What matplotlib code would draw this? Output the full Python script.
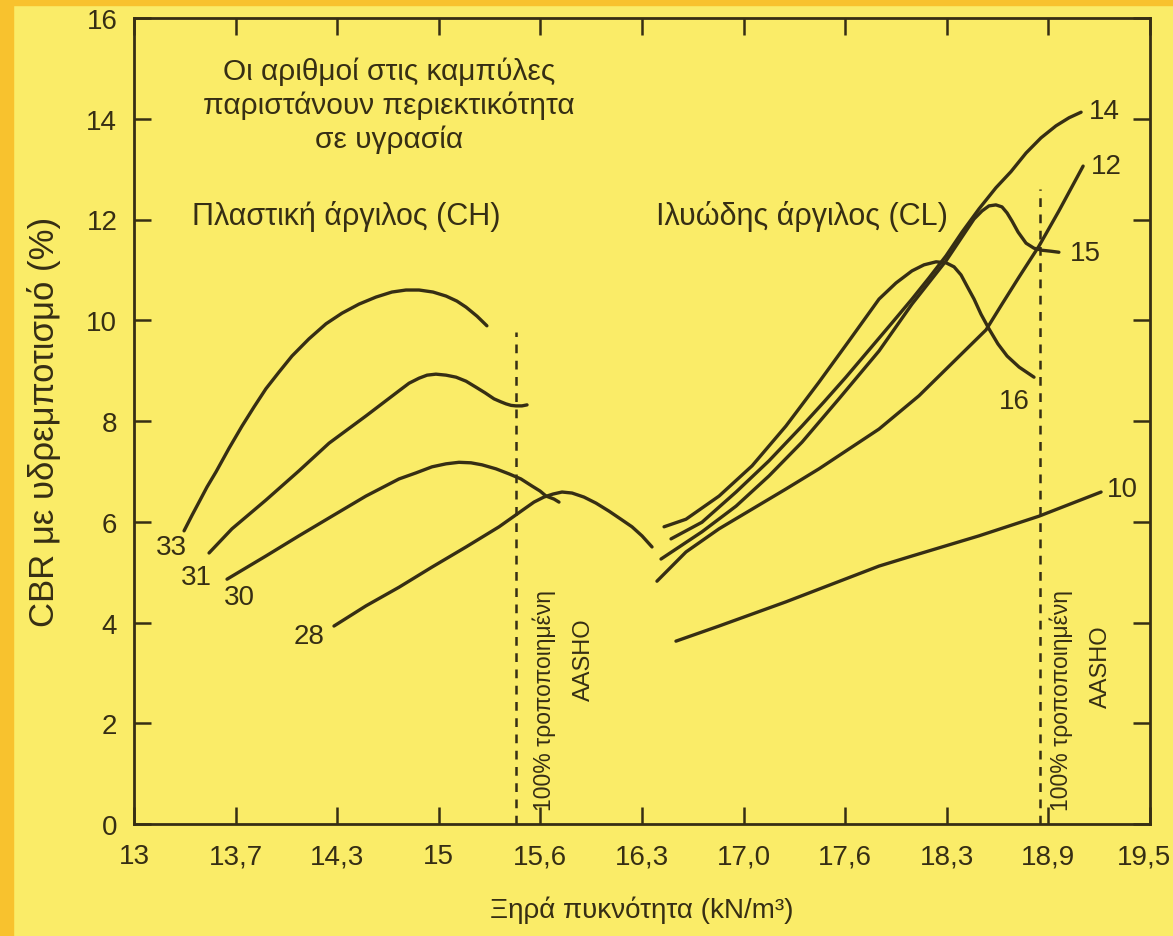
import numpy as np
import matplotlib.pyplot as plt
from matplotlib.patches import Rectangle

plt.rcParams['font.family'] = ['Liberation Sans', 'DejaVu Sans']

INK = '#362e14'
BG = '#faec68'
EDGE = '#f8c22e'

# axis ticks (kN/m3 on x, CBR % on y)
x_ticks = [13, 13.7, 14.3, 15, 15.6, 16.3, 17.0, 17.6, 18.3, 18.9, 19.5]
x_tick_labels = ["13", "13,7", "14,3", "15", "15,6", "16,3", "17,0", "17,6", "18,3", "18,9", "19,5"]
y_ticks = [0, 2, 4, 6, 8, 10, 12, 14, 16]

# plastic clay (CH), moisture 33 / 31 / 30 / 28 %
ch33_x = [13.345, 13.400, 13.448, 13.503, 13.565, 13.655, 13.738, 13.809, 13.879, 13.956, 14.033, 14.133, 14.234,
          14.333, 14.450, 14.567, 14.677, 14.774, 14.864, 14.960, 15.043, 15.107, 15.161, 15.226, 15.284]
ch33_y = [5.82, 6.13, 6.39, 6.69, 6.99, 7.46, 7.90, 8.28, 8.64, 8.97, 9.29, 9.63, 9.93,
          10.14, 10.32, 10.46, 10.56, 10.60, 10.60, 10.56, 10.48, 10.38, 10.26, 10.08, 9.89]
ch31_x = [13.517, 13.675, 13.879, 14.074, 14.252, 14.498, 14.726, 14.795, 14.864, 14.919, 14.980, 15.043,
          15.102, 15.161, 15.220, 15.273, 15.326, 15.367, 15.397, 15.427, 15.456, 15.491, 15.521]
ch31_y = [5.38, 5.86, 6.43, 7.01, 7.56, 8.10, 8.60, 8.75, 8.85, 8.91, 8.93, 8.91,
          8.87, 8.79, 8.67, 8.56, 8.44, 8.38, 8.34, 8.31, 8.30, 8.30, 8.32]
ch30_x = [13.641, 13.879, 14.074, 14.269, 14.498, 14.726, 14.843, 14.953, 15.043, 15.119, 15.190, 15.255,
          15.338, 15.415, 15.485, 15.550, 15.598, 15.639, 15.694, 15.728]
ch30_y = [4.86, 5.32, 5.72, 6.11, 6.51, 6.85, 6.97, 7.09, 7.15, 7.18, 7.17, 7.13,
          7.05, 6.95, 6.85, 6.71, 6.61, 6.51, 6.45, 6.39]
ch28_x = [14.281, 14.498, 14.726, 14.953, 15.161, 15.356, 15.503, 15.562, 15.624, 15.687, 15.749, 15.818,
          15.900, 15.983, 16.073, 16.155, 16.231, 16.300, 16.369]
ch28_y = [3.93, 4.33, 4.70, 5.10, 5.50, 5.90, 6.25, 6.39, 6.49, 6.55, 6.59, 6.57,
          6.49, 6.37, 6.21, 6.05, 5.90, 5.72, 5.50]

# silty clay (CL), moisture 16 / 14 / 15 / 12 / 10 %
cl16_x = [16.452, 16.603, 16.831, 17.050, 17.250, 17.445, 17.626, 17.833, 17.950, 18.060, 18.143, 18.226,
          18.295, 18.343, 18.384, 18.419, 18.461, 18.502, 18.549, 18.602, 18.656, 18.727, 18.815]
cl16_y = [5.90, 6.05, 6.51, 7.11, 7.90, 8.77, 9.59, 10.42, 10.74, 10.98, 11.10, 11.16,
          11.14, 11.06, 10.90, 10.68, 10.42, 10.12, 9.83, 9.53, 9.29, 9.07, 8.87]
cl14_x = [16.500, 16.713, 16.948, 17.150, 17.345, 17.475, 17.605, 17.764, 17.923, 18.060, 18.177, 18.295,
          18.390, 18.490, 18.590, 18.679, 18.768, 18.856, 18.945, 19.022, 19.093]
cl14_y = [5.66, 5.99, 6.59, 7.21, 7.90, 8.38, 8.87, 9.41, 9.95, 10.42, 10.84, 11.28,
          11.75, 12.21, 12.63, 12.95, 13.32, 13.62, 13.86, 14.02, 14.13]
cl15_x = [16.431, 16.713, 16.948, 17.150, 17.345, 17.563, 17.833, 18.060, 18.295, 18.413, 18.461, 18.508,
          18.549, 18.590, 18.626, 18.656, 18.685, 18.721, 18.768, 18.815, 18.862, 18.916, 18.962]
cl15_y = [5.26, 5.80, 6.31, 6.91, 7.58, 8.44, 9.39, 10.32, 11.18, 11.77, 12.01, 12.17,
          12.27, 12.29, 12.25, 12.13, 11.97, 11.75, 11.53, 11.43, 11.39, 11.37, 11.35]
cl12_x = [16.403, 16.603, 16.831, 17.050, 17.250, 17.445, 17.833, 18.108, 18.295, 18.532, 18.626, 18.727,
          18.844, 18.962, 19.105]
cl12_y = [4.82, 5.40, 5.86, 6.25, 6.65, 7.05, 7.84, 8.50, 9.03, 9.81, 10.32, 10.86,
          11.47, 12.17, 13.06]
cl10_x = [16.534, 16.831, 17.250, 17.833, 18.060, 18.490, 18.844, 19.211]
cl10_y = [3.63, 3.93, 4.41, 5.12, 5.32, 5.72, 6.11, 6.59]

# 100% modified AASHO lines
aasho_x = [15.456, 18.850]
aasho_top = [9.77, 12.61]

curves = [
    (ch33_x, ch33_y, "33", 13.255, 5.50),
    (ch31_x, ch31_y, "31", 13.427, 4.90),
    (ch30_x, ch30_y, "30", 13.720, 4.51),
    (ch28_x, ch28_y, "28", 14.133, 3.73),
    (cl16_x, cl16_y, "16", 18.697, 8.40),
    (cl14_x, cl14_y, "14", 19.230, 14.15),
    (cl15_x, cl15_y, "15", 19.116, 11.34),
    (cl12_x, cl12_y, "12", 19.240, 13.06),
    (cl10_x, cl10_y, "10", 19.334, 6.65),
]

# ticks on the x axis are evenly spaced although the values are not
tick_pos = np.arange(len(x_ticks))


def fwd(x):
    return np.interp(x, x_ticks, tick_pos)


def inv(p):
    return np.interp(p, tick_pos, x_ticks)


fig = plt.figure(figsize=(11.73, 9.37), dpi=100, facecolor=BG)
fig.patches.append(Rectangle((0, 0), 13 / 1173, 1, transform=fig.transFigure, color=EDGE, zorder=0))
fig.patches.append(Rectangle((0, 1 - 6 / 937), 1, 6 / 937, transform=fig.transFigure, color=EDGE, zorder=0))

ax = fig.add_axes([134 / 1173, 1 - 825 / 937, 1016 / 1173, 806 / 937])
ax.set_facecolor(BG)
ax.set_xscale('function', functions=(fwd, inv))
ax.set_xlim(13, 19.5)
ax.set_ylim(0, 16)

for xs, ys, lab, lx, ly in curves:
    ax.plot(xs, ys, color=INK, lw=2.4, solid_capstyle='round', solid_joinstyle='round')
    ax.text(lx, ly, lab, fontsize=20, color=INK, ha='center', va='center')

for xa, top in zip(aasho_x, aasho_top):
    ax.plot([xa, xa], [0, top], color=INK, lw=1.8, dashes=(3.5, 3))

ax.text(15.624, 2.48, "100% τροποποιημένη", rotation=90, fontsize=16.5, color=INK, ha='center', va='center')
ax.text(15.900, 3.28, "AASHO", rotation=90, fontsize=17, color=INK, ha='center', va='center')
ax.text(18.974, 2.48, "100% τροποποιημένη", rotation=90, fontsize=16.5, color=INK, ha='center', va='center')
ax.text(19.211, 3.14, "AASHO", rotation=90, fontsize=17, color=INK, ha='center', va='center')

ax.text(14.657, 14.27, "Οι αριθμοί στις καμπύλες\nπαριστάνουν περιεκτικότητα\nσε υγρασία",
        fontsize=21.5, color=INK, ha='center', va='center', linespacing=1.24)
ax.text(13.400, 12.07, "Πλαστική άργιλος (CH)", fontsize=22, color=INK, ha='left', va='center')
ax.text(16.397, 12.07, "Ιλυώδης άργιλος (CL)", fontsize=22, color=INK, ha='left', va='center')

ax.set_xticks(x_ticks)
ax.set_xticklabels(x_tick_labels[:-1] + [""])
ax.set_yticks(y_ticks)
ax.minorticks_off()
ax.tick_params(direction='in', length=12, width=1.8, color=INK, labelcolor=INK,
               labelsize=20, top=True, right=True)
ax.tick_params(axis='x', pad=14)
ax.tick_params(axis='y', pad=12)
# last x label pulled in a little so it stays inside the picture
ax.annotate(x_tick_labels[-1], xy=(x_ticks[-1], 0), xytext=(-4, -14), textcoords='offset points',
            ha='center', va='top', fontsize=20, color=INK, annotation_clip=False)
for s in ax.spines.values():
    s.set_color(INK)
    s.set_linewidth(2)

ax.set_xlabel("Ξηρά πυκνότητα (kN/m³)", fontsize=20, color=INK, labelpad=19)
ax.set_ylabel("CBR με υδρεμποτισμό (%)", fontsize=25, color=INK, labelpad=18)

fig.savefig("out.png", dpi=100, facecolor=BG)
